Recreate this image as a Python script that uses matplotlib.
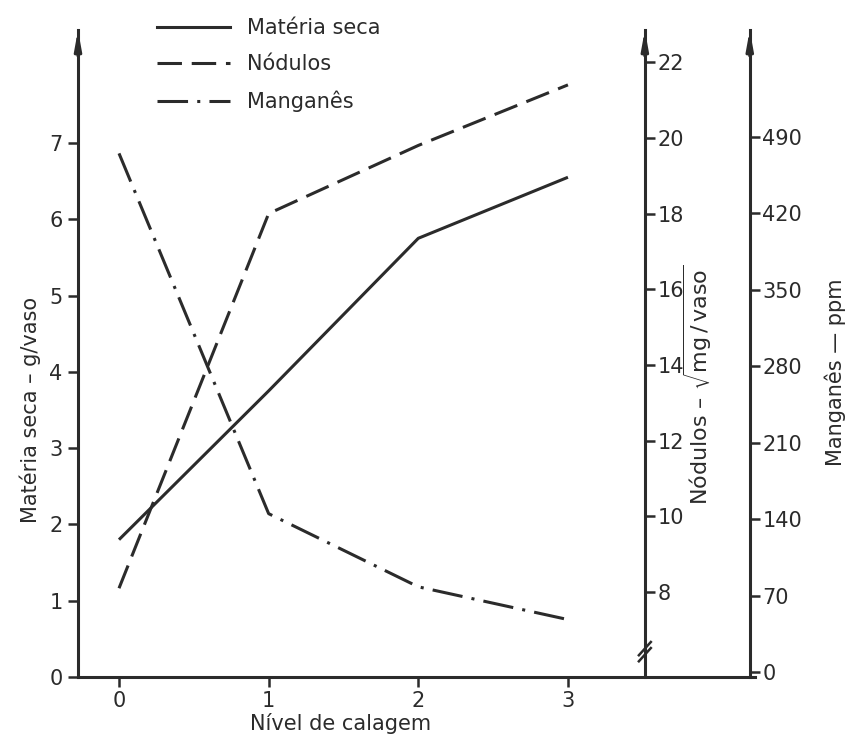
import matplotlib.pyplot as plt
from matplotlib.lines import Line2D

# values
nivel = [0, 1, 2, 3]
materia_seca = [1.8, 3.75, 5.75, 6.55]      # g/vaso (left axis)
nodulos = [8.1, 18.0, 19.8, 21.4]           # sqrt(mg/vaso) (middle axis)
manganes = [475, 145, 78, 48]               # ppm (right axis)

ms_ticks = list(range(0, 8))
nod_ticks = list(range(8, 23, 2))
mn_ticks = list(range(0, 491, 70))
x_ticks = [0, 1, 2, 3]

INK = '#2b2b2b'
FS = 15
plt.rcParams['font.family'] = ['DejaVu Sans']

fig = plt.figure(figsize=(8.48, 7.48), dpi=100)
ax = fig.add_axes([78 / 848, 71 / 748, 677 / 848, 647 / 748])
ax2 = ax.twinx()
ax3 = ax.twinx()

ax.set_xlim(-0.274, 4.25)
ax.set_ylim(0, 8.48)
ax2.set_ylim(5.755, 22.85)
ax3.set_ylim(-4.6, 588)

lw = 2.2
dashed = (0, (8, 3.2))
dashdot = (0, (10, 3, 1, 3))
ax.plot(nivel, materia_seca, color=INK, lw=lw, solid_capstyle='butt')
ax2.plot(nivel, nodulos, color=INK, lw=lw, linestyle=dashed)
ax3.plot(nivel, manganes, color=INK, lw=lw, linestyle=dashdot)

# spines
for a in (ax, ax2, ax3):
    for s in a.spines.values():
        s.set_visible(False)
ax.spines['left'].set_visible(True)
ax.spines['bottom'].set_visible(True)
ax2.spines['right'].set_visible(True)
ax3.spines['right'].set_visible(True)
ax2.spines['right'].set_position(('data', 3.514))
ax3.spines['right'].set_position(('data', 4.215))
for a, side in ((ax, 'left'), (ax, 'bottom'), (ax2, 'right'), (ax3, 'right')):
    a.spines[side].set_linewidth(2.2)
    a.spines[side].set_color(INK)

ax.set_xticks(x_ticks)
ax.set_yticks(ms_ticks)
ax2.set_yticks(nod_ticks)
ax3.set_yticks(mn_ticks)
ax.tick_params(axis='both', direction='out', length=7, width=1.8, color=INK,
               labelsize=FS, labelcolor=INK, pad=4)
ax.tick_params(axis='x', pad=3)
for a in (ax2, ax3):
    a.tick_params(axis='y', direction='out', length=7, width=1.8, color=INK,
                  labelsize=FS, labelcolor=INK, pad=2)

# arrow heads on the vertical axes
for xa in (-0.274, 3.514, 4.215):
    ax.annotate('', xy=(xa, 1.0), xytext=(xa, 0.96),
                xycoords=ax.get_xaxis_transform(),
                arrowprops=dict(arrowstyle='-|>,head_length=1.1,head_width=0.2',
                                color=INK, lw=2.2, shrinkA=0, shrinkB=0))

# axis break on the nodulos axis
for dy in (-0.08, 0.08):
    ax2.plot([3.474, 3.554], [6.25 + dy, 6.6 + dy], color=INK, lw=1.8,
             clip_on=False)

ax.text(-0.071, 0.413, 'Matéria seca – g/vaso', transform=ax.transAxes,
        rotation=90, ha='center', va='center', fontsize=FS, color=INK)
ax.text(0.916, 0.451, r'Nódulos – $\sqrt{\mathrm{mg\,/\,vaso}}$', transform=ax.transAxes,
        rotation=90, ha='center', va='center', fontsize=FS + 1, color=INK)
ax.text(1.118, 0.471, 'Manganês — ppm', transform=ax.transAxes,
        rotation=90, ha='center', va='center', fontsize=FS, color=INK)
ax.text(0.388, -0.072, 'Nível de calagem', transform=ax.transAxes,
        ha='center', va='center', fontsize=FS, color=INK)

handles = [Line2D([], [], color=INK, lw=lw),
           Line2D([], [], color=INK, lw=lw, linestyle=dashed),
           Line2D([], [], color=INK, lw=lw, linestyle=dashdot)]
fig.legend(handles, ['Matéria seca', 'Nódulos', 'Manganês'],
           loc='upper left', bbox_to_anchor=(157 / 848, 1 - 18 / 748),
           frameon=False, fontsize=FS, handlelength=3.5, handletextpad=0.8,
           labelspacing=0.78, borderpad=0, borderaxespad=0, labelcolor=INK)

fig.savefig('out.png', dpi=100, facecolor='white')
